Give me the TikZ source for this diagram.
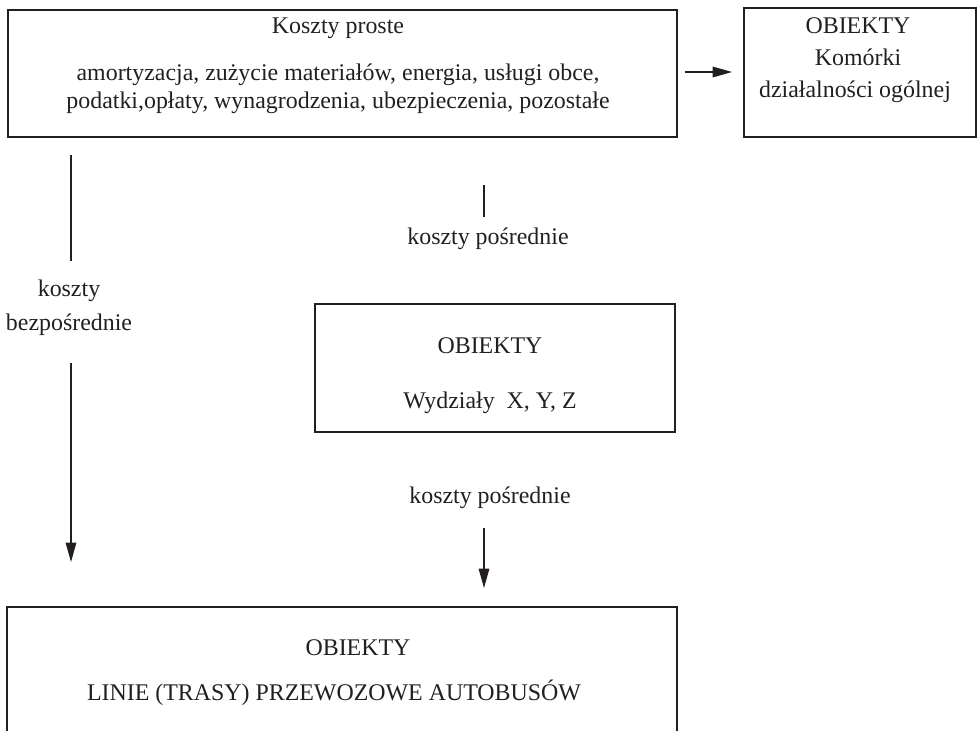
\documentclass[tikz,border=0pt]{standalone}
\usepackage{fontspec}
\setmainfont{Liberation Serif}
\usepackage{xcolor}
\usetikzlibrary{positioning,arrows.meta}

\definecolor{ink}{HTML}{231F20}

\tikzset{
  kbox/.style={draw=ink, line width=1.1pt, inner sep=0pt},
  ktext/.style={anchor=base, inner sep=0pt, text=ink},
  kline/.style={draw=ink, line width=0.75pt},
  karrow/.style={kline, -{Triangle[length=11pt,width=6pt]}}
}

\begin{document}
\begin{tikzpicture}[x=0.02cm, y=-0.02cm, font=\fontsize{13.6}{16}\selectfont]
\clip (0,0) rectangle (980,730);
% boxes
\node[kbox, minimum width=13.38cm, minimum height=2.54cm] (proste) at (342.5,73.5) {};
\node[kbox, minimum width=4.64cm, minimum height=2.58cm] (komorki) at (860,72.5) {};
\node[kbox, minimum width=7.2cm, minimum height=2.56cm] (wydzialy) at (495,368) {};
\node[kbox, minimum width=13.4cm, minimum height=3.2cm] (linie) at (342,687) {};

% texts in boxes
\node[ktext] (pr1) at (338,33) {Koszty proste};
\node[ktext] (pr2) at (338,80) {amortyzacja, zużycie materiałów, energia, usługi obce,};
\node[ktext] (pr3) at (338,108) {podatki,opłaty, wynagrodzenia, ubezpieczenia, pozostałe};
\node[ktext] (ko1) at (858,33) {OBIEKTY};
\node[ktext] (ko2) at (858,65) {Komórki};
\node[ktext] (ko3) at (855,97) {działalności ogólnej};
\node[ktext] (wy1) at (490,353) {OBIEKTY};
\node[ktext] (wy2) at (490,408) {Wydziały~~X, Y, Z};
\node[ktext] (li1) at (358,655) {OBIEKTY};
\node[ktext] (li2) at (334,700) {LINIE (TRASY) PRZEWOZOWE AUTOBUSÓW};

% labels
\node[ktext] (bez1) at (69,296) {koszty};
\node[ktext] (bez2) at (69,330) {bezpośrednie};
\node[ktext] (po1) at (488,244) {koszty pośrednie};
\node[ktext] (po2) at (490,503) {koszty pośrednie};

% connectors
\draw[karrow] ([xshift=0.14cm]proste.east |- 0,72) -- ([xshift=-0.22cm]komorki.west |- 0,72);
\coordinate (a1) at (71,155);
\coordinate (a2) at (71,261);
\coordinate (a3) at (71,363);
\coordinate (a4) at (71,562);
\draw[kline] (a1) -- (a2);
\draw[karrow] (a3) -- (a4);
\coordinate (b1) at (484,185);
\coordinate (b2) at (484,217);
\coordinate (b3) at (484,528);
\coordinate (b4) at (484,588);
\draw[kline] (b1) -- (b2);
\draw[karrow] (b3) -- (b4);
\end{tikzpicture}
\end{document}
